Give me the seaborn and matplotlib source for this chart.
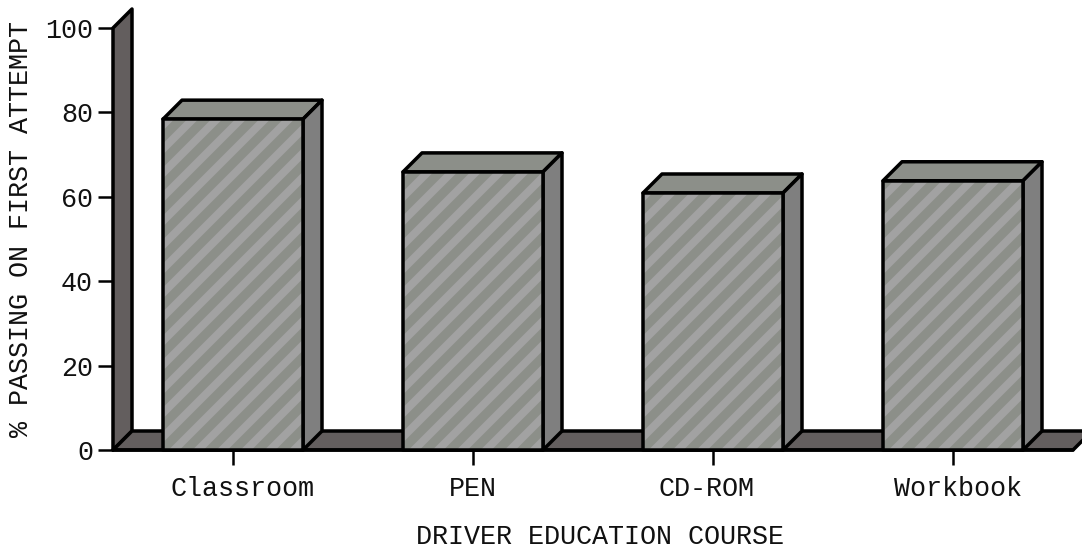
import matplotlib
matplotlib.use("Agg")
import matplotlib.pyplot as plt
from matplotlib.patches import Polygon
from matplotlib.transforms import ScaledTranslation
import pandas as pd
import seaborn as sns

courses = ["Classroom", "PEN", "CD-ROM", "Workbook"]
passing = [78.4, 65.9, 60.9, 63.8]
yticks = [0, 20, 40, 60, 80, 100]

W, H = 1082, 548
DPI = 144
sns.set_theme(style="white")
plt.rcParams["font.family"] = ["Liberation Mono", "DejaVu Sans Mono"]
plt.rcParams["hatch.linewidth"] = 3.9
plt.rcParams["hatch.color"] = "#a2a2a2"

fig = plt.figure(figsize=(W / DPI, H / DPI), dpi=DPI, facecolor="white")
x0, x1, y0, y1 = 113, 1073, 450, 28
ax = fig.add_axes([x0 / W, 1 - y0 / H, (x1 - x0) / W, (y0 - y1) / H])

df = pd.DataFrame({"course": courses, "passing": passing})
sns.barplot(data=df, x="course", y="passing", ax=ax, width=140 / 240,
            color="#8c8f89", saturation=1, zorder=5)

ax.set_xlim(-0.5, 3.5)
ax.set_ylim(0, 100)
dx = 19 / 240
dy = 19 * 100 / (y0 - y1)
EDGE = dict(edgecolor="black", linewidth=1.75, joinstyle="round", clip_on=False)

# back wall and floor
ax.add_patch(Polygon([(-0.5, 0), (-0.5, 100), (-0.5 + dx, 100 + dy), (-0.5 + dx, dy)],
                     facecolor="#635e5e", zorder=2, **EDGE))
ax.add_patch(Polygon([(-0.5, 0), (3.5, 0), (3.5 + dx, dy), (-0.5 + dx, dy)],
                     facecolor="#635e5e", zorder=2, **EDGE))

# bars: hatched front, top and side faces
for bar in list(ax.patches)[:len(courses)]:
    bar.set_hatch("//")
    bar.set_edgecolor("#a2a2a2")
    bar.set_linewidth(0)
    l, r, t = bar.get_x(), bar.get_x() + bar.get_width(), bar.get_height()
    ax.add_patch(Polygon([(l, 0), (r, 0), (r, t), (l, t)], fill=False, zorder=6, **EDGE))
    ax.add_patch(Polygon([(l, t), (r, t), (r + dx, t + dy), (l + dx, t + dy)],
                         facecolor="#8c8f89", zorder=4, **EDGE))
    ax.add_patch(Polygon([(r, 0), (r, t), (r + dx, t + dy), (r + dx, dy)],
                         facecolor="#7f7f7f", zorder=4, **EDGE))

for s in ax.spines.values():
    s.set_visible(False)
ax.set_yticks(yticks)
ax.set_xticks(range(len(courses)))
ax.set_xticklabels(courses)
ax.tick_params(axis="both", which="major", length=7.5, width=1.25, color="black",
               labelsize=13.4, labelcolor="#111111", bottom=True, left=True, pad=2.5)
ax.tick_params(axis="x", pad=5.3)
ax.plot([-0.5, 3.5], [0, 0], color="black", lw=1.75, zorder=3, clip_on=False)

# individual label shifts seen in the reference (pixels)
for lab, shift in zip(ax.get_xticklabels(), [9, 0, -6, 5]):
    lab.set_transform(lab.get_transform() + ScaledTranslation(shift / DPI, 0, fig.dpi_scale_trans))

ax.set_xlabel("DRIVER EDUCATION COURSE", fontsize=13.4, color="#111111")
ax.set_ylabel("% PASSING ON FIRST ATTEMPT", fontsize=13.4, color="#111111")
ax.yaxis.label.set_verticalalignment("center")
ax.yaxis.set_label_coords((21 - x0) / (x1 - x0), (y0 - 229) / (y0 - y1))
ax.xaxis.label.set_verticalalignment("center")
ax.xaxis.set_label_coords((600 - x0) / (x1 - x0), -(537 - y0) / (y0 - y1))

fig.savefig("out.png", dpi=DPI, facecolor="white")
